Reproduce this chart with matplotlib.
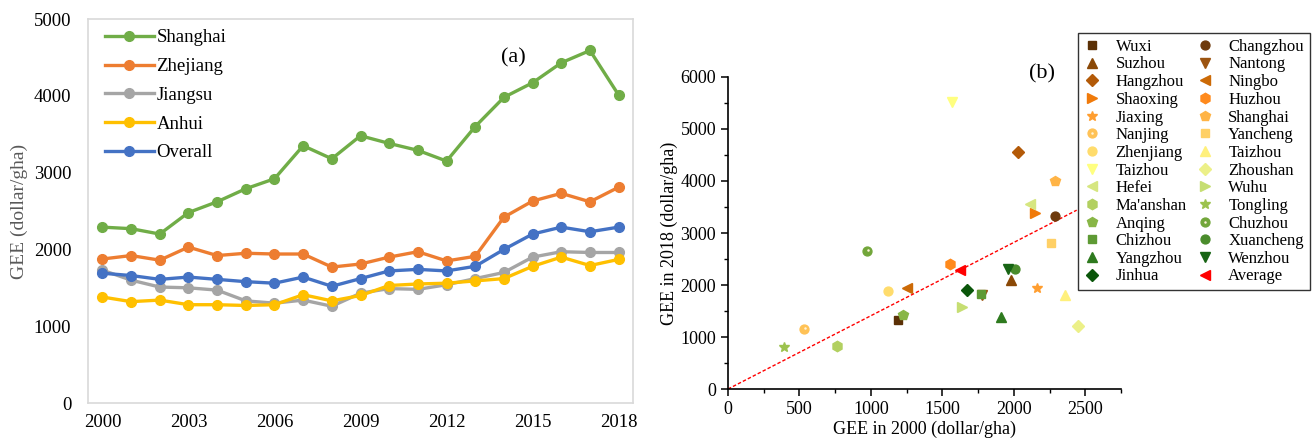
import matplotlib.pyplot as plt
from matplotlib.legend_handler import HandlerTuple
from matplotlib.transforms import offset_copy

plt.rcParams['font.family'] = ['Liberation Serif', 'DejaVu Serif']

# ---- panel (a): GEE time series by region
years = list(range(2000, 2019))
shanghai = [2290, 2270, 2200, 2480, 2620, 2790, 2920, 3350, 3180, 3480,
            3380, 3290, 3150, 3600, 3980, 4170, 4430, 4590, 4010]
zhejiang = [1875, 1920, 1860, 2030, 1920, 1950, 1940, 1940, 1770, 1810,
            1900, 1970, 1850, 1910, 2420, 2630, 2730, 2620, 2810]
jiangsu = [1730, 1600, 1510, 1500, 1470, 1330, 1300, 1340, 1260, 1430,
           1490, 1480, 1540, 1620, 1700, 1900, 1970, 1960, 1960]
anhui = [1380, 1320, 1340, 1280, 1280, 1270, 1280, 1410, 1330, 1400,
         1530, 1550, 1560, 1590, 1620, 1780, 1900, 1790, 1870]
overall = [1690, 1660, 1610, 1640, 1610, 1580, 1560, 1640, 1520, 1620,
           1720, 1740, 1720, 1780, 2000, 2200, 2290, 2230, 2290]

series_names = ['Shanghai', 'Zhejiang', 'Jiangsu', 'Anhui', 'Overall']
series_vals = [shanghai, zhejiang, jiangsu, anhui, overall]
series_colors = ['#70AD47', '#ED7D31', '#A5A5A5', '#FFC000', '#4472C4']

# ---- panel (b): GEE 2000 vs 2018 by city (row-major legend order)
cities = ['Wuxi', 'Changzhou', 'Suzhou', 'Nantong', 'Hangzhou', 'Ningbo',
          'Shaoxing', 'Huzhou', 'Jiaxing', 'Shanghai', 'Nanjing', 'Yancheng',
          'Zhenjiang', 'Taizhou', 'Taizhou', 'Zhoushan', 'Hefei', 'Wuhu',
          "Ma'anshan", 'Tongling', 'Anqing', 'Chuzhou', 'Chizhou', 'Xuancheng',
          'Yangzhou', 'Wenzhou', 'Jinhua', 'Average']
gee2000 = [1190, 2290, 1980, 1780, 2030, 1250, 2150, 1555, 2160, 2285,
           530, 2260, 1120, 2360, 1565, 2450, 2110, 1635, 765, 390,
           1225, 970, 1770, 2010, 1910, 1960, 1675, 1625]
gee2018 = [1320, 3320, 2100, 1810, 4550, 1940, 3380, 2410, 1940, 4000,
           1150, 2800, 1890, 1800, 5520, 1220, 3560, 1580, 820, 810,
           1420, 2650, 1820, 2310, 1390, 2310, 1900, 2290]
markers = ['s', 'o', '^', 'v', 'D', '<', '>', 'h', '*', 'p', 'o', 's',
           'o', '^', 'v', 'D', '<', '>', 'h', '*', 'p', 'o', 's', 'o',
           '^', 'v', 'D', '<']
colors = ['#5B3006', '#6E3A0C', '#8A4806', '#9C5410', '#B35A08', '#CC6A06',
          '#F07A0A', '#FF8A1C', '#FF9E30', '#FFB446', '#FFC256', '#FFD066',
          '#FFDC6C', '#FFF07C', '#FFFF80', '#ECF088', '#D6E680', '#C6DE72',
          '#B2D060', '#9CC24E', '#88B646', '#72A63A', '#5E9A34', '#4A8C2C',
          '#2E7A1E', '#176414', '#0A560A', '#FF0000']
highlight = ['Nanjing', 'Chuzhou']

fig = plt.figure(figsize=(13.16, 4.42), dpi=100)

# ---------------- (a)
ax1 = fig.add_axes([0.0669, 0.0882, 0.4141, 0.8688])
for name, vals, c in zip(series_names, series_vals, series_colors):
    ax1.plot(years, vals, '-o', color=c, lw=2.4, ms=7, label=name)
ax1.set_xlim(1999.5, 2018.5)
ax1.set_ylim(0, 5000)
ax1.set_xticks(years[::3])
ax1.set_yticks(range(0, 5001, 1000))
ax1.tick_params(length=0, labelsize=13.5, pad=8)
ax1.tick_params(axis='y', pad=12)
for s in ax1.spines.values():
    s.set_color('#D9D9D9')
    s.set_linewidth(1.2)
ax1.set_ylabel('GEE (dollar/gha)', fontsize=14, color='#595959', labelpad=4)
ax1.legend(loc='upper left', bbox_to_anchor=(0.012, 1.0), frameon=False,
           fontsize=13.5, handlelength=2.6, handletextpad=0.15,
           labelspacing=0.62, borderaxespad=0.15)
ax1.text(0.78, 0.9, '(a)', transform=ax1.transAxes, fontsize=16,
         ha='center', va='center')

# ---------------- (b)
ax2 = fig.add_axes([0.5532, 0.1199, 0.2986, 0.7059])
shine = offset_copy(ax2.transData, fig=fig, x=1.0, y=1.0, units='dots')
handles = []
for name, x, y, m, c in zip(cities, gee2000, gee2018, markers, colors):
    ms = 7.5 if m in ('^', 'v', '<', '>', '*', 'p', 'h') else 6.4
    if m == 'D':
        ms = 6.3
    h = ax2.plot(x, y, ls='none', marker=m, color=c, ms=ms, mec=c)[0]
    if name in highlight:
        h2 = ax2.plot(x, y, ls='none', marker='o', color='#FFF3D8',
                      ms=1.8, mew=0, transform=shine)[0]
        handles.append((h, h2))
    else:
        handles.append(h)

# reference line through origin and the average point
slope = gee2018[-1] / gee2000[-1]
x_end = 2440
ax2.plot([0, x_end], [0, slope * x_end], ls=(0, (2.5, 1.5)), color='red',
         lw=1, zorder=0)

ax2.set_xlim(0, 2750)
ax2.set_ylim(0, 6000)
ax2.set_xticks(range(0, 2501, 500))
ax2.set_xticks(range(250, 2751, 500), minor=True)
ax2.set_yticks(range(0, 6001, 1000))
ax2.set_yticks(range(500, 6000, 1000), minor=True)
ax2.spines['top'].set_visible(False)
ax2.spines['right'].set_visible(False)
for s in ('left', 'bottom'):
    ax2.spines[s].set_linewidth(1.2)
ax2.tick_params(which='major', length=5, width=1.1, labelsize=13,
                direction='out')
ax2.tick_params(which='minor', length=3, width=1.0, direction='out')
ax2.set_xlabel('GEE in 2000 (dollar/gha)', fontsize=13, labelpad=2)
ax2.set_ylabel('GEE in 2018 (dollar/gha)', fontsize=13, labelpad=2)
ax2.text(0.80, 1.01, '(b)', transform=ax2.transAxes, fontsize=16,
         ha='center', va='center')

# legend: two columns, filled row by row
order = list(range(0, len(cities), 2)) + list(range(1, len(cities), 2))
leg = fig.legend([handles[i] for i in order], [cities[i] for i in order],
                 loc='upper left', bbox_to_anchor=(1078 / 1316, 1 - 33 / 442),
                 bbox_transform=fig.transFigure, ncol=2, fontsize=12,
                 handler_map={tuple: HandlerTuple(ndivide=1)},
                 handlelength=1.0, handletextpad=0.9, columnspacing=0.6,
                 labelspacing=0.1, borderpad=0.35, fancybox=False,
                 edgecolor='#333333', framealpha=1, borderaxespad=0)
leg.get_frame().set_linewidth(1.0)

fig.savefig('out.png', dpi=100)
